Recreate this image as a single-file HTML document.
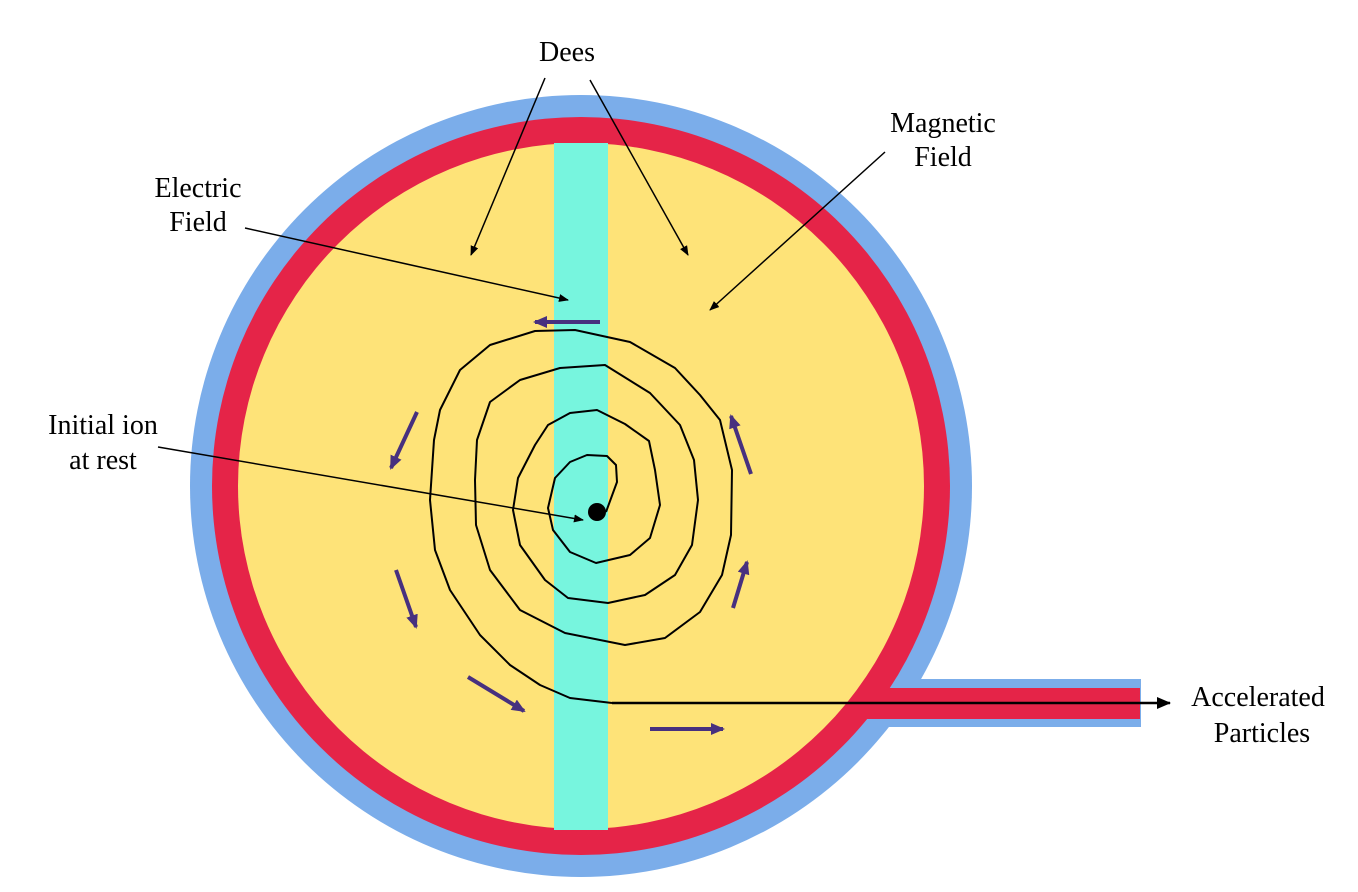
<!DOCTYPE html>
<html><head><style>body{margin:0;background:#fff}svg{display:block}</style></head><body>
<svg width="1358" height="892" viewBox="0 0 1358 892">
<defs>
<marker id="a" markerWidth="10" markerHeight="8" refX="9" refY="4" orient="auto" markerUnits="userSpaceOnUse"><path d="M0,0L10,4L0,8z" fill="#000"/></marker>
<marker id="b" markerWidth="14" markerHeight="12" refX="12" refY="6" orient="auto" markerUnits="userSpaceOnUse"><path d="M0,0L14,6L0,12z" fill="#47307f"/></marker>
<marker id="c" markerWidth="14" markerHeight="12" refX="13" refY="6" orient="auto" markerUnits="userSpaceOnUse"><path d="M0,0L14,6L0,12z" fill="#000"/></marker>
</defs>
<circle cx="581" cy="486" r="391" fill="#7badea"/>
<rect x="860" y="679" width="281" height="48" fill="#7badea"/>
<circle cx="581" cy="486" r="369" fill="#e52448"/>
<rect x="850" y="688" width="290" height="31" fill="#e52448"/>
<circle cx="581" cy="486" r="343" fill="#fee378"/>
<rect x="554" y="143" width="54" height="687" fill="#77f5de"/>
<path d="M606,512 L617,482 L616,465 L607,456 L587,455 L570,462 L555,478 L548,508 L553,530 L570,552 L596,563 L630,555 L650,538 L660,505 L655,470 L649,441 L625,424 L597,410 L570,413 L548,425 L535,445 L518,478 L513,510 L520,545 L545,580 L568,598 L608,603 L645,595 L675,575 L692,545 L698,500 L694,460 L680,425 L650,393 L605,365 L560,368 L520,380 L490,402 L477,440 L475,480 L476,525 L490,570 L520,610 L565,633 L625,645 L665,638 L700,612 L722,575 L731,535 L732,470 L720,420 L700,395 L675,368 L630,342 L575,330 L535,331 L490,345 L460,370 L440,410 L434,440 L430,500 L435,550 L450,590 L480,635 L510,665 L540,685 L570,698 L612,703" fill="none" stroke="#000" stroke-width="2" stroke-linejoin="round"/>
<circle cx="597" cy="512" r="9" fill="#000"/>
<line x1="612" y1="703" x2="1170" y2="703" stroke="#000" stroke-width="2.5" marker-end="url(#c)"/>
<g stroke="#47307f" stroke-width="4" marker-end="url(#b)">
<line x1="600" y1="322" x2="535" y2="322"/>
<line x1="417" y1="412" x2="391" y2="468"/>
<line x1="396" y1="570" x2="416" y2="627"/>
<line x1="468" y1="677" x2="524" y2="711"/>
<line x1="650" y1="729" x2="723" y2="729"/>
<line x1="733" y1="608" x2="747" y2="562"/>
<line x1="751" y1="474" x2="731" y2="416"/>
</g>
<g stroke="#000" stroke-width="1.5" marker-end="url(#a)">
<line x1="545" y1="78" x2="471" y2="255"/>
<line x1="590" y1="80" x2="688" y2="255"/>
<line x1="885" y1="152" x2="710" y2="310"/>
<line x1="245" y1="228" x2="568" y2="300"/>
<line x1="158" y1="447" x2="583" y2="520"/>
</g>
<g text-anchor="middle" font-family="Liberation Serif, DejaVu Serif, serif" font-size="28" fill="#000">
<text x="567" y="61">Dees</text>
<text x="943" y="132">Magnetic</text>
<text x="943" y="166">Field</text>
<text x="198" y="197">Electric</text>
<text x="198" y="231">Field</text>
<text x="103" y="434">Initial ion</text>
<text x="103" y="469">at rest</text>
<text x="1258" y="706">Accelerated</text>
<text x="1262" y="742">Particles</text>
</g>
</svg>
</body></html>
